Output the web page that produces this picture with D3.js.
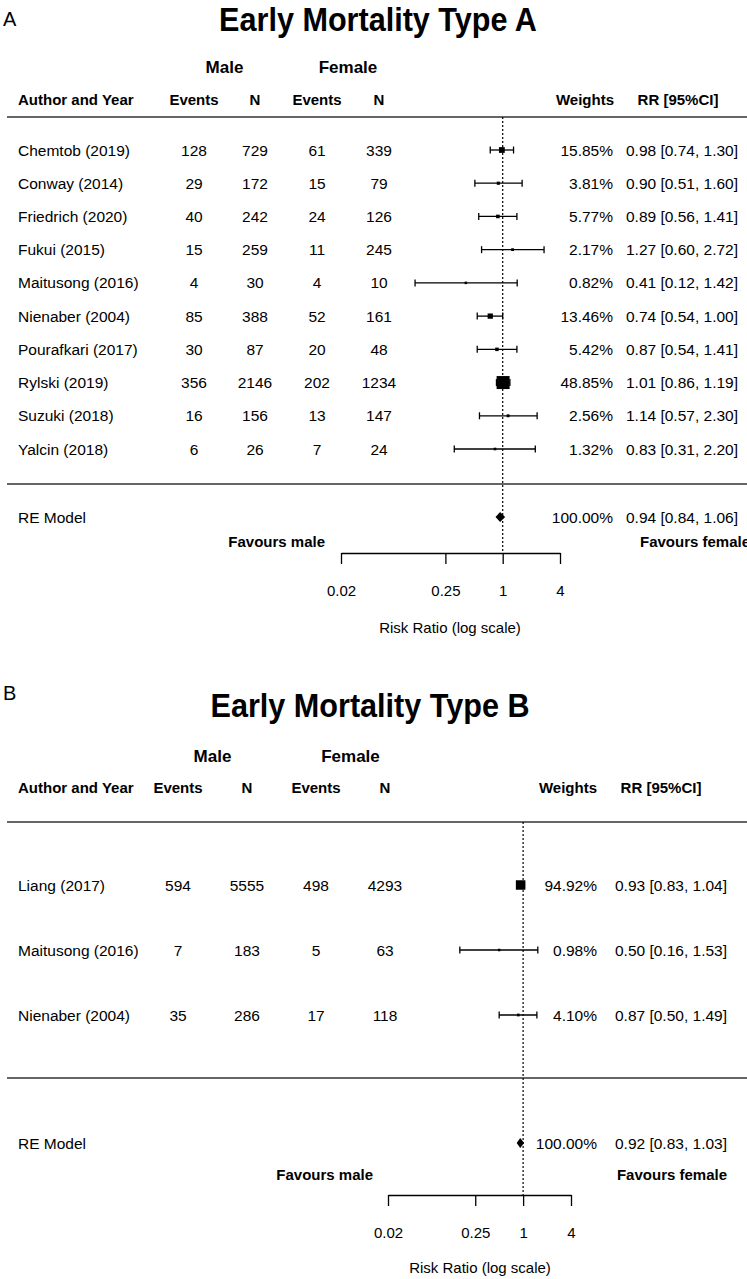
<html>
<head>
    <script src="https://d3js.org/d3.v7.min.js"></script>
    <style>
        body { margin: 0; background: #fff; }
        svg text { font-family: "Liberation Sans", Arial, sans-serif; fill: #000; }
    </style>
</head>
<body>
<div id="chart"></div>
<script>
    // ---- data, panel A ----
    var studiesA = ["Chemtob (2019)", "Conway (2014)", "Friedrich (2020)", "Fukui (2015)", "Maitusong (2016)",
                    "Nienaber (2004)", "Pourafkari (2017)", "Rylski (2019)", "Suzuki (2018)", "Yalcin (2018)"];
    var maleEventsA = [128, 29, 40, 15, 4, 85, 30, 356, 16, 6];
    var maleNA = [729, 172, 242, 259, 30, 388, 87, 2146, 156, 26];
    var femaleEventsA = [61, 15, 24, 11, 4, 52, 20, 202, 13, 7];
    var femaleNA = [339, 79, 126, 245, 10, 161, 48, 1234, 147, 24];
    var weightsA = [15.85, 3.81, 5.77, 2.17, 0.82, 13.46, 5.42, 48.85, 2.56, 1.32];
    var rrA = [0.98, 0.90, 0.89, 1.27, 0.41, 0.74, 0.87, 1.01, 1.14, 0.83];
    var lowerA = [0.74, 0.51, 0.56, 0.60, 0.12, 0.54, 0.54, 0.86, 0.57, 0.31];
    var upperA = [1.30, 1.60, 1.41, 2.72, 1.42, 1.00, 1.41, 1.19, 2.30, 2.20];
    var summaryA = [0.94, 0.84, 1.06];   // RR, lower, upper

    // ---- data, panel B ----
    var studiesB = ["Liang (2017)", "Maitusong (2016)", "Nienaber (2004)"];
    var maleEventsB = [594, 7, 35];
    var maleNB = [5555, 183, 286];
    var femaleEventsB = [498, 5, 17];
    var femaleNB = [4293, 63, 118];
    var weightsB = [94.92, 0.98, 4.10];
    var rrB = [0.93, 0.50, 0.87];
    var lowerB = [0.83, 0.16, 0.50];
    var upperB = [1.04, 1.53, 1.49];
    var summaryB = [0.92, 0.83, 1.03];

    var tickValues = [0.02, 0.25, 1, 4];

    var svg = d3.select("#chart")
        .append("svg")
        .attr("width", 747)
        .attr("height", 1279);

    function fmt(v) { return v.toFixed(2); }

    function drawPanel(p) {
        var rows = p.studies.map(function(s, i) {
            return {name: s, me: p.me[i], mn: p.mn[i], fe: p.fe[i], fn: p.fn[i],
                    w: p.w[i], rr: p.rr[i], lo: p.lo[i], hi: p.hi[i]};
        });

        var x = d3.scaleLog().domain([0.02, 4]).range(p.xRange);
        var y = d3.scalePoint().domain(p.studies).range(p.rowRange);
        var size = d3.scaleLinear().domain(d3.extent(p.w)).range(p.sizeRange);

        var g = svg.append("g");

        // panel letter and title (title glyphs are a bit condensed in the original)
        g.append("text").attr("x", 3).attr("y", p.letterY)
            .attr("font-size", 20).text(p.letter);
        g.append("text")
            .attr("transform", "translate(" + p.titleX + "," + p.titleY + ") scale(0.9,1)")
            .attr("text-anchor", "middle").attr("font-size", 34).attr("font-weight", "bold")
            .text(p.title);

        // header
        g.append("text").attr("x", (p.cols[0] + p.cols[1]) / 2).attr("y", p.groupY)
            .attr("text-anchor", "middle").attr("font-size", 17).attr("font-weight", "bold").text("Male");
        g.append("text").attr("x", (p.cols[2] + p.cols[3]) / 2).attr("y", p.groupY)
            .attr("text-anchor", "middle").attr("font-size", 17).attr("font-weight", "bold").text("Female");

        var heads = [
            {t: "Author and Year", x: 18, a: "start"},
            {t: "Events", x: p.cols[0], a: "middle"},
            {t: "N", x: p.cols[1], a: "middle"},
            {t: "Events", x: p.cols[2], a: "middle"},
            {t: "N", x: p.cols[3], a: "middle"},
            {t: "Weights", x: p.weightHeadX, a: "middle"},
            {t: "RR [95%CI]", x: p.rrHeadX, a: "middle"}
        ];
        g.selectAll(".head").data(heads).enter().append("text")
            .attr("x", function(d) { return d.x; })
            .attr("y", p.headY)
            .attr("text-anchor", function(d) { return d.a; })
            .attr("font-size", 15).attr("font-weight", "bold")
            .text(function(d) { return d.t; });

        // rules
        [p.rule1, p.rule2].forEach(function(ry) {
            g.append("line").attr("x1", 7).attr("x2", 747).attr("y1", ry).attr("y2", ry)
                .attr("stroke", "#333").attr("stroke-width", 1.6);
        });

        // reference line at RR = 1
        g.append("line")
            .attr("x1", x(1)).attr("x2", x(1))
            .attr("y1", p.rule1).attr("y2", p.axisY)
            .attr("stroke", "#000").attr("stroke-width", 1.2)
            .attr("stroke-dasharray", "2,2");

        // study rows, text columns
        var row = g.selectAll(".row").data(rows).enter().append("g")
            .attr("transform", function(d) { return "translate(0," + y(d.name) + ")"; });

        row.append("text").attr("x", 18).attr("y", 5.5).attr("font-size", 15.5)
            .text(function(d) { return d.name; });
        ["me", "mn", "fe", "fn"].forEach(function(k, i) {
            row.append("text").attr("x", p.cols[i]).attr("y", 5.5)
                .attr("text-anchor", "middle").attr("font-size", 15.5)
                .text(function(d) { return d[k]; });
        });
        row.append("text").attr("x", p.weightX).attr("y", 5.5)
            .attr("text-anchor", "end").attr("font-size", 15.5)
            .text(function(d) { return fmt(d.w) + "%"; });
        row.append("text").attr("x", p.rrX).attr("y", 5.5)
            .attr("text-anchor", "end").attr("font-size", 15.5)
            .text(function(d) { return fmt(d.rr) + " [" + fmt(d.lo) + ", " + fmt(d.hi) + "]"; });

        // CI whiskers
        row.append("line")
            .attr("x1", function(d) { return x(d.lo); })
            .attr("x2", function(d) { return x(d.hi); })
            .attr("stroke", "#000").attr("stroke-width", 1.3);
        ["lo", "hi"].forEach(function(k) {
            row.append("line")
                .attr("x1", function(d) { return x(d[k]); })
                .attr("x2", function(d) { return x(d[k]); })
                .attr("y1", -3.5).attr("y2", 3.5)
                .attr("stroke", "#000").attr("stroke-width", 1.3);
        });
        row.append("rect")
            .attr("x", function(d) { return x(d.rr) - size(d.w) / 2; })
            .attr("y", function(d) { return -size(d.w) / 2; })
            .attr("width", function(d) { return size(d.w); })
            .attr("height", function(d) { return size(d.w); })
            .attr("fill", "#000");

        // summary row
        var sy = p.summaryY;
        g.append("text").attr("x", 18).attr("y", sy + 5.5).attr("font-size", 15.5).text("RE Model");
        g.append("path")
            .attr("d", "M" + x(p.sum[1]) + "," + sy + "L" + x(p.sum[0]) + "," + (sy - 5) +
                       "L" + x(p.sum[2]) + "," + sy + "L" + x(p.sum[0]) + "," + (sy + 5) + "Z")
            .attr("fill", "#000");
        g.append("text").attr("x", p.weightX).attr("y", sy + 5.5)
            .attr("text-anchor", "end").attr("font-size", 15.5).text("100.00%");
        g.append("text").attr("x", p.rrX).attr("y", sy + 5.5)
            .attr("text-anchor", "end").attr("font-size", 15.5)
            .text(fmt(p.sum[0]) + " [" + fmt(p.sum[1]) + ", " + fmt(p.sum[2]) + "]");

        // favours labels
        g.append("text").attr("x", p.favMaleX).attr("y", p.favY)
            .attr("text-anchor", "end").attr("font-size", 15).attr("font-weight", "bold")
            .text("Favours male");
        g.append("text").attr("x", p.favFemaleX).attr("y", p.favY)
            .attr("text-anchor", p.favFemaleAnchor).attr("font-size", 15).attr("font-weight", "bold")
            .text("Favours female");

        // x axis
        var axis = d3.axisBottom(x)
            .tickValues(tickValues)
            .tickFormat(function(d) { return d; })
            .tickSize(11)
            .tickSizeOuter(0)
            .tickPadding(21);
        var ag = g.append("g")
            .attr("transform", "translate(0," + p.axisY + ")")
            .call(axis);
        ag.attr("font-family", null).attr("font-size", null);
        ag.select(".domain").attr("stroke", "#000").attr("stroke-width", 1.3);
        ag.selectAll(".tick line").attr("stroke", "#000").attr("stroke-width", 1.3);
        ag.selectAll(".tick text").attr("font-size", 15).attr("fill", "#000");

        g.append("text").attr("x", p.xlabX).attr("y", p.xlabY)
            .attr("text-anchor", "middle").attr("font-size", 15)
            .text("Risk Ratio (log scale)");
    }

    drawPanel({
        letter: "A", letterY: 26, title: "Early Mortality Type A", titleX: 378, titleY: 31,
        studies: studiesA, me: maleEventsA, mn: maleNA, fe: femaleEventsA, fn: femaleNA,
        w: weightsA, rr: rrA, lo: lowerA, hi: upperA, sum: summaryA,
        groupY: 73, headY: 105, rule1: 117, rule2: 484,
        rowRange: [150, 449], summaryY: 517, favY: 547, axisY: 553, xlabY: 633, xlabX: 450,
        xRange: [341, 560], cols: [194, 255, 317, 379],
        weightX: 613, rrX: 738, weightHeadX: 585, rrHeadX: 678,
        favMaleX: 325, favFemaleX: 640, favFemaleAnchor: "start",
        sizeRange: [2.5, 13]
    });

    drawPanel({
        letter: "B", letterY: 700, title: "Early Mortality Type B", titleX: 370, titleY: 717,
        studies: studiesB, me: maleEventsB, mn: maleNB, fe: femaleEventsB, fn: femaleNB,
        w: weightsB, rr: rrB, lo: lowerB, hi: upperB, sum: summaryB,
        groupY: 762, headY: 793, rule1: 822, rule2: 1078,
        rowRange: [885, 1015], summaryY: 1143, favY: 1180, axisY: 1195, xlabY: 1273, xlabX: 480,
        xRange: [388, 571], cols: [178, 247, 316, 385],
        weightX: 597, rrX: 727, weightHeadX: 568, rrHeadX: 661,
        favMaleX: 373, favFemaleX: 727, favFemaleAnchor: "end",
        sizeRange: [2.5, 9.5]
    });
</script>
</body>
</html>
